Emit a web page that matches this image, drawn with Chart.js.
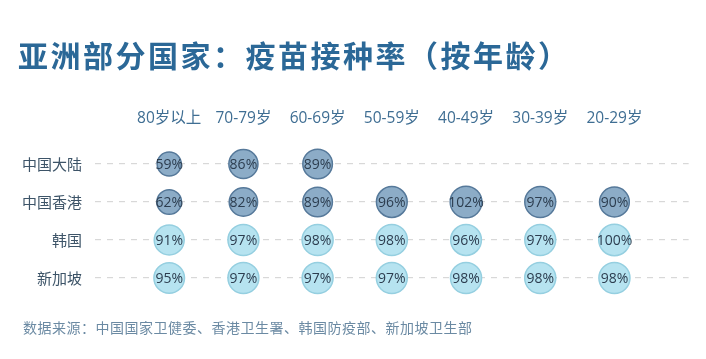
<!DOCTYPE html>
<html>
<head>
<meta charset="utf-8">
<script src="https://cdn.jsdelivr.net/npm/chart.js@4"></script>
<style>
  html, body { margin: 0; padding: 0; background: #fff; }
  body { width: 706px; height: 359px; position: relative; overflow: hidden; font-family: 'Open Sans', 'Noto Sans CJK SC', sans-serif; }
  #title { position: absolute; left: 18px; top: 32px; font-family: 'Noto Sans CJK SC', sans-serif; font-size: 30px; font-weight: bold; color: #2b6897; letter-spacing: 2.5px; white-space: nowrap; }
  #source { position: absolute; left: 23px; top: 317px; font-family: 'Noto Sans CJK SC', sans-serif; font-size: 14px; color: #6b8aa3; letter-spacing: 0.5px; white-space: nowrap; }
  #wrap { position: absolute; left: 0; top: 0; width: 706px; height: 359px; }
</style>
</head>
<body>
<div id="wrap"><canvas id="chart"></canvas></div>
<div id="title">亚洲部分国家：疫苗接种率（按年龄）</div>
<div id="source">数据来源：中国国家卫健委、香港卫生署、韩国防疫部、新加坡卫生部</div>
<script>
// age groups (columns) and regions (rows)
const ageGroups = ['80岁以上', '70-79岁', '60-69岁', '50-59岁', '40-49岁', '30-39岁', '20-29岁'];
const regions = ['中国大陆', '中国香港', '韩国', '新加坡'];

// vaccination rate in %, null = no data
const mainland = [59, 86, 89, null, null, null, null];
const hongkong = [62, 82, 89, 96, 102, 97, 90];
const korea = [91, 97, 98, 98, 96, 97, 100];
const singapore = [95, 97, 97, 97, 98, 98, 98];

const rows = [mainland, hongkong, korea, singapore];

// Dark bubbles for the two Chinese regions, light for the others
const fills = ['#8cacc7', '#8cacc7', '#b6e3f0', '#b6e3f0'];
const borders = ['#56799a', '#56799a', '#95cfe0', '#95cfe0'];

const FONT = "'Open Sans', 'Noto Sans CJK SC', sans-serif";

function toPoints(values, rowIdx) {
  const pts = [];
  values.forEach((v, i) => {
    if (v === null) return;
    pts.push({ x: i, y: rowIdx, r: 1.57 * Math.sqrt(v), v: v });
  });
  return pts;
}

// draws the percentage text in the middle of each bubble
const valueLabels = {
  id: 'valueLabels',
  afterDatasetsDraw(chart) {
    const ctx = chart.ctx;
    ctx.save();
    ctx.font = '14px ' + FONT;
    ctx.fillStyle = '#2c3d4f';
    ctx.textAlign = 'center';
    ctx.textBaseline = 'middle';
    chart.data.datasets.forEach((ds, di) => {
      chart.getDatasetMeta(di).data.forEach((el, i) => {
        ctx.fillText(ds.data[i].v + '%', el.x, el.y + 1);
      });
    });
    ctx.restore();
  }
};

new Chart(document.getElementById('chart'), {
  type: 'bubble',
  data: {
    datasets: rows.map((vals, ri) => ({
      label: regions[ri],
      data: toPoints(vals, ri),
      backgroundColor: fills[ri],
      borderColor: borders[ri],
      borderWidth: 1.5
    }))
  },
  options: {
    responsive: true,
    maintainAspectRatio: false,
    animation: false,
    layout: { padding: { left: 0, right: 14, top: 0, bottom: 62 } },
    plugins: {
      legend: { display: false },
      tooltip: { enabled: false }
    },
    scales: {
      x: {
        type: 'linear',
        position: 'top',
        min: -1,
        max: 7,
        afterBuildTicks: scale => { scale.ticks = ageGroups.map((_, i) => ({ value: i })); },
        afterFit: scale => { scale.height = 145; },
        border: { display: false },
        grid: { display: false, drawTicks: false },
        ticks: {
          padding: 17,
          color: '#3f6e93',
          font: { family: FONT, size: 15.5 },
          callback: v => ageGroups[v]
        }
      },
      y: {
        type: 'linear',
        reverse: true,
        min: -0.5,
        max: 3.5,
        afterBuildTicks: scale => { scale.ticks = regions.map((_, i) => ({ value: i })); },
        afterFit: scale => { scale.width = 95; },
        grid: {
          drawTicks: false,
          color: '#d8d8d8',
          lineWidth: 1.2
        },
        border: { display: false, dash: [6, 6] },
        ticks: {
          padding: 13,
          color: '#3d5468',
          font: { family: "'Noto Sans CJK SC', sans-serif", size: 15 },
          callback: v => regions[v]
        }
      }
    }
  },
  plugins: [valueLabels]
});
</script>
</body>
</html>
